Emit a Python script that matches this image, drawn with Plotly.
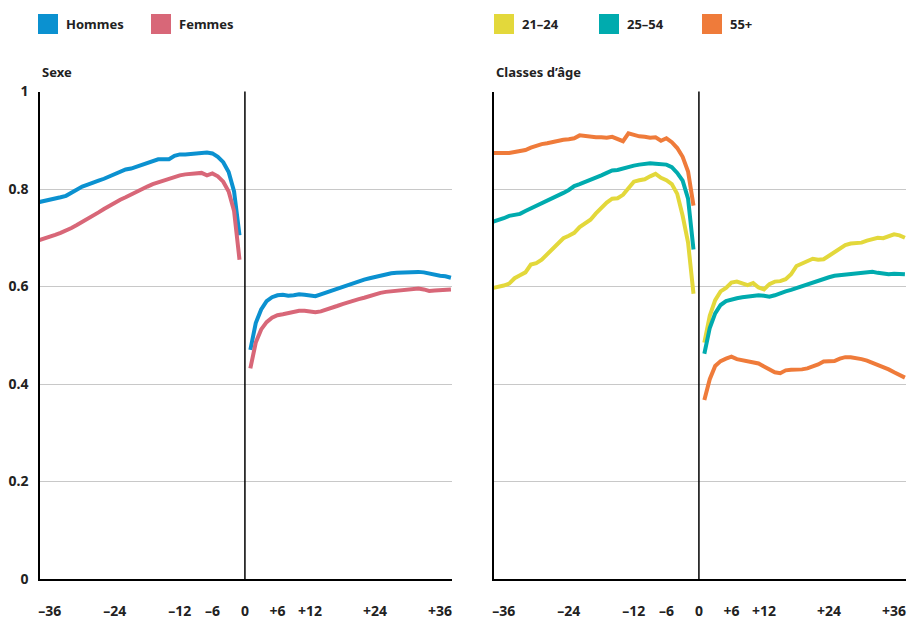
import plotly.graph_objects as go

# ---- data ----
months_before = list(range(-38, 0))
months_after = list(range(1, 39))

sex_names = ["Hommes", "Femmes"]
sex_colors = ["#0b91d0", "#d86778"]
hommes_before = [0.773, 0.775, 0.778, 0.780, 0.783, 0.786, 0.793, 0.800, 0.805, 0.809,
                 0.812, 0.817, 0.821, 0.826, 0.830, 0.835, 0.840, 0.842, 0.846, 0.850,
                 0.855, 0.859, 0.861, 0.861, 0.861, 0.868, 0.871, 0.871, 0.872, 0.874,
                 0.876, 0.875, 0.873, 0.866, 0.855, 0.835, 0.795, 0.705]
hommes_after = [0.470, 0.525, 0.553, 0.570, 0.578, 0.582, 0.583, 0.581, 0.582, 0.584,
                0.583, 0.582, 0.580, 0.584, 0.588, 0.592, 0.596, 0.599, 0.603, 0.607,
                0.610, 0.614, 0.617, 0.620, 0.623, 0.625, 0.627, 0.628, 0.629, 0.629,
                0.630, 0.630, 0.629, 0.626, 0.623, 0.622, 0.621, 0.618]
femmes_before = [0.695, 0.698, 0.702, 0.706, 0.710, 0.714, 0.720, 0.726, 0.732, 0.738,
                 0.744, 0.752, 0.759, 0.766, 0.772, 0.778, 0.783, 0.789, 0.795, 0.800,
                 0.805, 0.810, 0.814, 0.817, 0.820, 0.825, 0.828, 0.830, 0.831, 0.832,
                 0.833, 0.828, 0.832, 0.826, 0.815, 0.795, 0.755, 0.655]
femmes_after = [0.432, 0.485, 0.512, 0.527, 0.536, 0.541, 0.543, 0.546, 0.549, 0.550,
                0.550, 0.549, 0.547, 0.549, 0.552, 0.556, 0.560, 0.564, 0.568, 0.571,
                0.574, 0.577, 0.581, 0.585, 0.587, 0.589, 0.590, 0.592, 0.593, 0.594,
                0.595, 0.596, 0.594, 0.591, 0.592, 0.593, 0.594, 0.594]

age_names = ["21\u201324", "25\u201354", "55+"]
age_colors = ["#e3d83b", "#00abae", "#ef7b3a"]
a2124_before = [0.597, 0.599, 0.602, 0.606, 0.617, 0.623, 0.629, 0.645, 0.648, 0.655,
                0.666, 0.677, 0.688, 0.699, 0.704, 0.710, 0.722, 0.730, 0.737, 0.750,
                0.762, 0.772, 0.780, 0.781, 0.788, 0.802, 0.815, 0.818, 0.820, 0.826,
                0.831, 0.823, 0.818, 0.810, 0.790, 0.745, 0.690, 0.585]
a2124_after = [0.485, 0.540, 0.572, 0.590, 0.597, 0.608, 0.610, 0.607, 0.603, 0.607,
               0.598, 0.594, 0.605, 0.610, 0.611, 0.615, 0.625, 0.642, 0.647, 0.650,
               0.657, 0.655, 0.656, 0.663, 0.670, 0.678, 0.685, 0.688, 0.689, 0.690,
               0.694, 0.697, 0.700, 0.699, 0.703, 0.707, 0.705, 0.700]
a2554_before = [0.733, 0.736, 0.740, 0.745, 0.747, 0.749, 0.755, 0.760, 0.765, 0.770,
                0.775, 0.780, 0.786, 0.792, 0.798, 0.806, 0.810, 0.814, 0.818, 0.823,
                0.828, 0.833, 0.838, 0.839, 0.842, 0.847, 0.848, 0.850, 0.852, 0.853,
                0.852, 0.852, 0.850, 0.845, 0.833, 0.817, 0.780, 0.676]
a2554_after = [0.462, 0.515, 0.545, 0.562, 0.570, 0.574, 0.576, 0.578, 0.580, 0.581,
               0.582, 0.581, 0.579, 0.582, 0.587, 0.590, 0.593, 0.597, 0.601, 0.605,
               0.609, 0.613, 0.616, 0.619, 0.622, 0.623, 0.625, 0.626, 0.627, 0.628,
               0.629, 0.630, 0.628, 0.626, 0.625, 0.626, 0.626, 0.625]
a55_before = [0.874, 0.874, 0.873, 0.874, 0.876, 0.878, 0.880, 0.885, 0.889, 0.892,
              0.894, 0.897, 0.900, 0.901, 0.902, 0.904, 0.910, 0.908, 0.907, 0.906,
              0.906, 0.905, 0.907, 0.902, 0.898, 0.914, 0.910, 0.908, 0.907, 0.905,
              0.906, 0.899, 0.904, 0.896, 0.884, 0.866, 0.836, 0.766]
a55_after = [0.367, 0.410, 0.437, 0.447, 0.452, 0.456, 0.451, 0.449, 0.447, 0.444,
             0.442, 0.436, 0.429, 0.424, 0.422, 0.428, 0.429, 0.429, 0.430, 0.432,
             0.435, 0.440, 0.446, 0.446, 0.447, 0.452, 0.455, 0.455, 0.454, 0.451,
             0.448, 0.444, 0.440, 0.434, 0.430, 0.424, 0.418, 0.413]

panel_titles = ["Sexe", "Classes d\u2019\u00e2ge"]
x_tickvals = [-36, -24, -12, -6, 0, 6, 12, 24, 36]
x_ticktext = ["\u201336", "\u201324", "\u201312", "\u20136", "0", "+6", "+12", "+24", "+36"]
y_tickvals = [0, 0.2, 0.4, 0.6, 0.8, 1]
y_ticktext = ["0", "0.2", "0.4", "0.6", "0.8", "1"]

FONT = "Noto Sans"
W, H = 908, 619


def px(x):  # page x pixel -> paper fraction
    return x / W


def py(y):  # page y pixel (from top) -> paper fraction
    return 1 - y / H


fig = go.Figure()

xs = months_before + [None] + months_after


def add_series(before, after, color, name, xa, ya):
    fig.add_trace(go.Scatter(
        x=xs, y=before + [None] + after, mode="lines", name=name,
        line=dict(color=color, width=4), connectgaps=False,
        xaxis=xa, yaxis=ya, showlegend=False, hoverinfo="skip"))


add_series(hommes_before, hommes_after, sex_colors[0], sex_names[0], "x", "y")
add_series(femmes_before, femmes_after, sex_colors[1], sex_names[1], "x", "y")
add_series(a2124_before, a2124_after, age_colors[0], age_names[0], "x2", "y2")
add_series(a2554_before, a2554_after, age_colors[1], age_names[1], "x2", "y2")
add_series(a55_before, a55_after, age_colors[2], age_names[2], "x2", "y2")

y_dom = [py(579), py(91.5)]
dom1 = [px(40), px(452)]
dom2 = [px(494), px(906)]
xrange = [-37.8, 38.2]

xaxis_common = dict(range=xrange, tickvals=x_tickvals, ticktext=x_ticktext,
                    showgrid=False, zeroline=False, showline=True, linecolor="black",
                    linewidth=1.5, ticks="", ticklabelstandoff=18, automargin=False,
                    tickfont=dict(family=FONT, size=14, color="#222", weight="bold"))
yaxis_common = dict(range=[0, 1], tickvals=y_tickvals, showgrid=True,
                    gridcolor="#c8c8c8", gridwidth=1, zeroline=False,
                    showline=True, linecolor="black", linewidth=1.5, ticks="",
                    ticklabelstandoff=7, automargin=False,
                    tickfont=dict(family=FONT, size=14, color="#222", weight="bold"))

fig.update_layout(
    width=W, height=H, paper_bgcolor="white", plot_bgcolor="white",
    margin=dict(l=0, r=0, t=0, b=0, autoexpand=False), showlegend=False,
    xaxis=dict(domain=dom1, anchor="y", **xaxis_common),
    yaxis=dict(domain=y_dom, anchor="x", ticktext=y_ticktext, **yaxis_common),
    xaxis2=dict(domain=dom2, anchor="y2", **xaxis_common),
    yaxis2=dict(domain=y_dom, anchor="x2", showticklabels=False, **yaxis_common),
)

# vertical line at 0
for xr, yr in [("x", "y"), ("x2", "y2")]:
    fig.add_shape(type="line", xref=xr, yref=yr + " domain", x0=0, x1=0, y0=0, y1=1,
                  line=dict(color="black", width=1.5), layer="above")

# panel titles
for title, xpos in zip(panel_titles, [40, 494]):
    fig.add_annotation(text=title, xref="paper", yref="paper", x=px(xpos), y=py(72),
                       xanchor="left", yanchor="middle", showarrow=False,
                       font=dict(family=FONT, size=13, color="#222", weight="bold"))


# legends
def legend_item(x_sq, name, color):
    fig.add_shape(type="rect", xref="paper", yref="paper",
                  x0=px(x_sq), x1=px(x_sq + 20), y0=py(34), y1=py(14),
                  fillcolor=color, line=dict(width=0))
    fig.add_annotation(text=name, xref="paper", yref="paper", x=px(x_sq + 26),
                       y=py(24), xanchor="left", yanchor="middle", showarrow=False,
                       font=dict(family=FONT, size=13, color="#222", weight="bold"))


for xp, n, c in zip([38, 151], sex_names, sex_colors):
    legend_item(xp, n, c)
for xp, n, c in zip([494, 599, 702], age_names, age_colors):
    legend_item(xp, n, c)

fig.write_html(
    "out.html",
    config={"displayModeBar": False},
    post_script="document.body.style.margin='0';"
                "document.body.style.overflow='hidden';"
                "document.documentElement.style.overflow='hidden';",
)
